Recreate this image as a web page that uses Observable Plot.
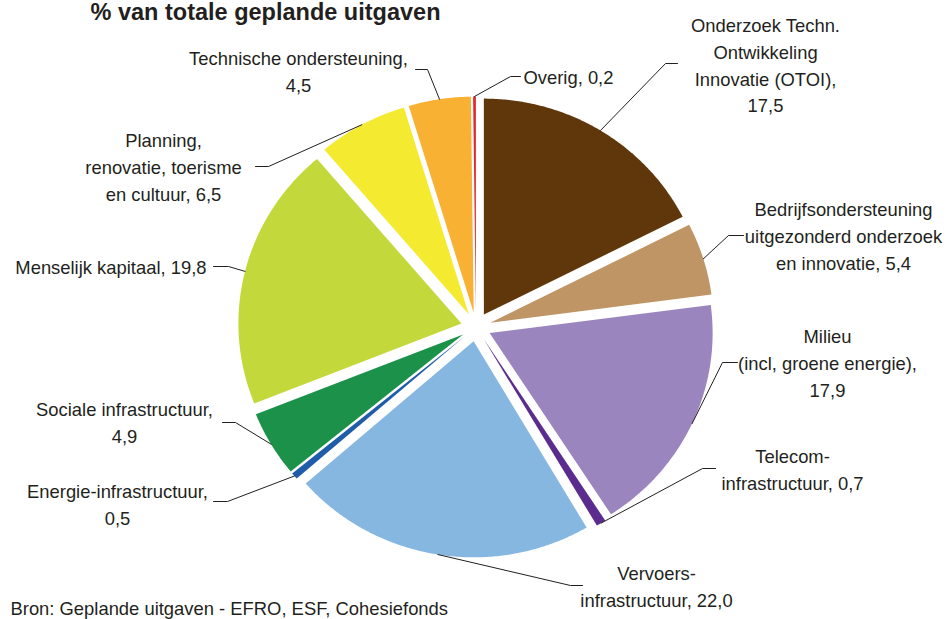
<!DOCTYPE html>
<html><head><meta charset="utf-8">
<script src="https://cdn.jsdelivr.net/npm/d3@7"></script>
<script src="https://cdn.jsdelivr.net/npm/@observablehq/plot@0.6"></script>
<style>body{margin:0;background:#fff} svg{display:block}</style>
</head><body><div id="chart"></div>
<script>
// ---- data ----
const categories = ["OTOI", "Bedrijfsondersteuning", "Milieu", "Telecom", "Vervoers", "Energie", "Sociale", "Menselijk", "Planning", "Technische", "Overig"];
const values = [17.5, 5.4, 17.9, 0.7, 22.0, 0.5, 4.9, 19.8, 6.5, 4.5, 0.2];
const labels = [
  "Onderzoek Techn.\nOntwikkeling\nInnovatie (OTOI),\n17,5",
  "Bedrijfsondersteuning\nuitgezonderd onderzoek\nen innovatie, 5,4",
  "Milieu\n(incl, groene energie),\n17,9",
  "Telecom-\ninfrastructuur, 0,7",
  "Vervoers-\ninfrastructuur, 22,0",
  "Energie-infrastructuur,\n0,5",
  "Sociale infrastructuur,\n4,9",
  "Menselijk kapitaal, 19,8",
  "Planning,\nrenovatie, toerisme\nen cultuur, 6,5",
  "Technische ondersteuning,\n4,5",
  "Overig, 0,2"
];
const colors = ["#5f370a", "#bf9566", "#9b85be", "#5b2c8e", "#86b7e0", "#1f5caa", "#1b914a", "#c3d83a", "#f4ea30", "#f9b134", "#e8252a"];
const title = "% van totale geplande uitgaven";
const caption = "Bron: Geplande uitgaven - EFRO, ESF, Cohesiefonds";

// ---- layout (pixels) ----
const W = 947, H = 619;
const CX = 475.5, CY = 326.5, RX = 223, RY = 216, EXPLODE = 15 / 223;
const labelLayout = [
  {x: 765, y: 63, anchor: "middle", elbow: [665, 63], end: [677, 63]},
  {x: 843, y: 234, anchor: "middle", elbow: [728, 235], end: [743, 235]},
  {x: 827, y: 361, anchor: "middle", elbow: [722, 362], end: [737, 362]},
  {x: 792, y: 467, anchor: "middle", elbow: [702, 468], end: [715, 468]},
  {x: 656, y: 584, anchor: "middle", elbow: [570, 585], end: [582, 585]},
  {x: 117, y: 502, anchor: "middle", elbow: [227, 501], end: [213, 501]},
  {x: 124, y: 420, anchor: "middle", elbow: [235, 422], end: [222, 422]},
  {x: 206, y: 265, anchor: "end", elbow: [228, 266], end: [213, 266]},
  {x: 163, y: 165, anchor: "middle", elbow: [268, 166], end: [255, 166]},
  {x: 298, y: 69, anchor: "middle", elbow: [427, 69], end: [415, 69]},
  {x: 523, y: 75, anchor: "start", elbow: [510, 76], end: [520, 76]}
];
const ux = px => (px - CX) / RX;
const uy = py => (CY - py) / RY;

// ---- pie geometry ----
const total = d3.sum(values);
let cum = 0;
const slices = values.map((v, i) => {
  const a0 = cum / total * 2 * Math.PI;
  cum += v;
  const a1 = cum / total * 2 * Math.PI;
  return {name: categories[i], a0, a1, mid: (a0 + a1) / 2};
});
const slicePts = [];
for (const s of slices) {
  const ox = EXPLODE * Math.sin(s.mid), oy = EXPLODE * Math.cos(s.mid);
  slicePts.push({name: s.name, x: ox, y: oy});
  const n = Math.max(2, Math.ceil((s.a1 - s.a0) / (Math.PI / 360)));
  for (let k = 0; k <= n; k++) {
    const a = s.a0 + (s.a1 - s.a0) * k / n;
    slicePts.push({name: s.name, x: ox + Math.sin(a), y: oy + Math.cos(a)});
  }
}
const leaderPts = [];
const labelData = [];
slices.forEach((s, i) => {
  const L = labelLayout[i];
  leaderPts.push({name: s.name, x: (1 + EXPLODE) * Math.sin(s.mid), y: (1 + EXPLODE) * Math.cos(s.mid)});
  leaderPts.push({name: s.name, x: ux(L.elbow[0]), y: uy(L.elbow[1])});
  leaderPts.push({name: s.name, x: ux(L.end[0]), y: uy(L.end[1])});
  labelData.push({name: s.name, text: labels[i], x: ux(L.x), y: uy(L.y), anchor: L.anchor});
});

const textColor = "#231f20";
const font = 18.4;
const chart = Plot.plot({
  width: W, height: H,
  marginTop: 0, marginRight: 0, marginBottom: 0, marginLeft: 0,
  x: {domain: [-1, 1], range: [CX - RX, CX + RX], axis: null},
  y: {domain: [-1, 1], range: [CY + RY, CY - RY], axis: null},
  color: {domain: categories, range: colors},
  style: {fontFamily: "'Liberation Sans', Arial, sans-serif", color: textColor, background: "#fff"},
  marks: [
    Plot.line(slicePts, {x: "x", y: "y", z: "name", fill: "name", stroke: "none", curve: "linear-closed"}),
    Plot.line(leaderPts, {x: "x", y: "y", z: "name", stroke: textColor, strokeWidth: 1}),
    ...["start", "middle", "end"].map(a => Plot.text(labelData.filter(d => d.anchor === a), {
      x: "x", y: "y", text: "text", textAnchor: a, lineAnchor: "middle",
      lineHeight: 1.46, fontSize: font, fill: textColor
    })),
    Plot.text([title], {x: ux(265), y: uy(12), text: d => d, fontSize: 23.5, fontWeight: "bold", fill: textColor, lineAnchor: "middle"}),
    Plot.text([caption], {x: ux(10), y: uy(609), text: d => d, fontSize: font, textAnchor: "start", fill: textColor, lineAnchor: "middle"})
  ]
});
document.getElementById("chart").append(chart);
</script>
</body></html>
